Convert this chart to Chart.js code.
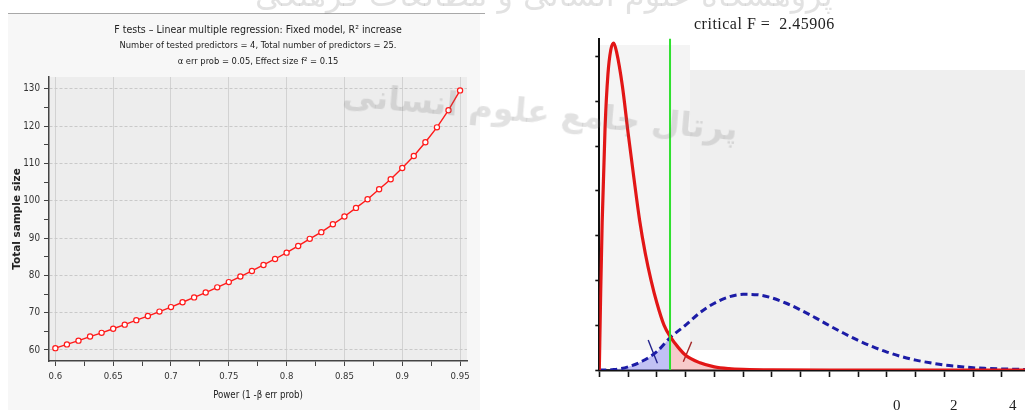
<!DOCTYPE html>
<html>
<head>
<meta charset="utf-8">
<title>F tests – Linear multiple regression</title>
<script src="https://cdn.jsdelivr.net/npm/chart.js@4.4.1/dist/chart.umd.min.js"></script>
<style>
  html, body { margin: 0; padding: 0; background: #fff; }
  #page { position: relative; width: 1025px; height: 410px; overflow: hidden; background: #fff; }
  .abs { position: absolute; }
  canvas { position: absolute; top: 0; }
  #leftBg  { left: 8px; top: 14px; width: 472px; height: 396px; background: #f7f7f7; }
  #topRule { left: 8px; top: 13px; width: 477px; height: 1px; background: #a8a8a8; }
  #rBgA { left: 599px; top: 45px;  width: 91px;  height: 305px; background: #f4f4f4; }
  #rBgB { left: 690px; top: 70px;  width: 335px; height: 280px; background: #efefef; }
  #rBgC { left: 810px; top: 350px; width: 215px; height: 20px;  background: #f3f3f3; }
  #critLabel { left: 694px; top: 15px; font: 16px "Liberation Serif", "DejaVu Serif", serif; letter-spacing: 0.5px; color: #222; white-space: pre; }
  .stray { top: 397px; font: 15px "Liberation Serif", "DejaVu Serif", serif; color: #222; }
  .wm { font-family: "DejaVu Sans", sans-serif; color: rgba(110,110,110,0.2); white-space: nowrap; direction: rtl; pointer-events: none; }
  #wm1 { left: 255px; top: -24px; font-size: 32px; }
  #wm2 { left: 342px; top: 92px; font-size: 33px; font-weight: bold; transform: rotate(5deg); transform-origin: center; }
</style>
</head>
<body>
<div id="page">
  <div class="abs" id="leftBg"></div>
  <div class="abs" id="topRule"></div>
  <div class="abs" id="rBgA"></div>
  <div class="abs" id="rBgB"></div>
  <div class="abs" id="rBgC"></div>
  <canvas id="chart-power" width="480" height="410" style="left:0"></canvas>
  <canvas id="chart-dist" width="465" height="410" style="left:560px"></canvas>
  <div class="abs" id="critLabel">critical F =  2.45906</div>
  <div class="abs stray" style="left:893px">0</div>
  <div class="abs stray" style="left:950px">2</div>
  <div class="abs stray" style="left:1009px">4</div>
  <div class="abs wm" id="wm1">پژوهشگاه علوم انسانی و مطالعات فرهنگی</div>
  <div class="abs wm" id="wm2">پرتال جامع علوم انسانی</div>
</div>
<script>
"use strict";

// ── Data: power curve ─────────────────────────────────────────────────────────

const power = [
  0.60, 0.61, 0.62, 0.63, 0.64, 0.65, 0.66, 0.67, 0.68, 0.69,
  0.70, 0.71, 0.72, 0.73, 0.74, 0.75, 0.76, 0.77, 0.78, 0.79,
  0.80, 0.81, 0.82, 0.83, 0.84, 0.85, 0.86, 0.87, 0.88, 0.89,
  0.90, 0.91, 0.92, 0.93, 0.94, 0.95,
];
const totalN = [
  60.5, 61.5, 62.5, 63.6, 64.6, 65.7, 66.8, 68.0, 69.1, 70.3,
  71.5, 72.8, 74.1, 75.4, 76.8, 78.2, 79.7, 81.2, 82.8, 84.4,
  86.1, 87.9, 89.8, 91.6, 93.7, 95.8, 98.1, 100.4, 103.1, 105.8,
  108.8, 112.0, 115.7, 119.7, 124.3, 129.6,
];
const powerTicks = [0.6, 0.65, 0.7, 0.75, 0.8, 0.85, 0.9, 0.95];
const powerTickLabels = ["0.6", "0.65", "0.7", "0.75", "0.8", "0.85", "0.9", "0.95"];
const sizeTicks = [60, 70, 80, 90, 100, 110, 120, 130];

// ── Data: central / noncentral F distributions ────────────────────────────────

const critF = 2.45906;
const h0F = [0, 0.05, 0.1, 0.2, 0.3, 0.4, 0.5, 0.6, 0.8, 1.0, 1.2, 1.4, 1.6, 1.8,
  2.0, 2.25, 2.45906, 2.75, 3.0, 3.5, 4.0, 4.5, 5.0, 6.0, 8.0, 10.0, 12.0, 14.8];
const h0Dens = [0, 0.18, 0.33, 0.54, 0.66, 0.715, 0.73, 0.71, 0.635, 0.53, 0.43, 0.335, 0.26, 0.20,
  0.15, 0.10, 0.075, 0.05, 0.033, 0.016, 0.007, 0.003, 0.0013, 0.0002, 0, 0, 0, 0];
const h1F = [0, 0.5, 1.0, 1.5, 2.0, 2.45906, 3.0, 3.5, 4.0, 4.5, 5.0, 5.5, 6.0, 6.5, 7.0,
  7.5, 8.0, 8.5, 9.0, 9.5, 10, 10.5, 11, 11.5, 12, 12.5, 13, 13.5, 14, 14.5, 14.8];
const h1Dens = [0, 0.001, 0.007, 0.02, 0.041, 0.072, 0.10, 0.128, 0.149, 0.163, 0.169, 0.168, 0.161, 0.149, 0.134,
  0.117, 0.099, 0.082, 0.066, 0.052, 0.040, 0.030, 0.022, 0.016, 0.011, 0.008, 0.005, 0.0035, 0.0024, 0.0016, 0.0012];
const critLineDens = [0, 0.74];
const betaMarkF = [1.70, 2.02];
const betaMarkDens = [0.067, 0.015];
const alphaMarkF = [3.21, 2.92];
const alphaMarkDens = [0.063, 0.0185];
const distXTicks = [0, 1, 2, 3, 4, 5, 6, 7, 8, 9, 10, 11, 12, 13, 14];
const distYTicks = [0, 0.1, 0.2, 0.3, 0.4, 0.5, 0.6, 0.7];

// ── Helpers ───────────────────────────────────────────────────────────────────

const $ = (id) => document.getElementById(id);
const pts = (xs, ys) => xs.map((x, i) => ({ x, y: ys[i] }));
const near = (a, b) => Math.abs(a - b) < 1e-6;
const isMajor = (list, v) => list.some((m) => near(m, v));
const withMinor = (major) => {
  const out = [];
  major.forEach((v, i) => {
    out.push(v);
    if (i < major.length - 1) out.push((v + major[i + 1]) / 2);
  });
  return out;
};

const NARROW = "'Liberation Sans Narrow', 'DejaVu Sans Condensed', 'Arial Narrow', sans-serif";

const plotBg = {
  id: "plotBg",
  beforeDraw(chart, args, opts) {
    if (!opts.color) return;
    const { ctx, chartArea: a } = chart;
    ctx.save();
    ctx.fillStyle = opts.color;
    ctx.fillRect(a.left, a.top, a.right - a.left, a.bottom - a.top);
    ctx.restore();
  },
};

// ── Power curve ───────────────────────────────────────────────────────────────

new Chart($("chart-power"), {
  type: "line",
  data: {
    datasets: [{
      data: pts(power, totalN),
      borderColor: "#ff1a1a",
      borderWidth: 1.4,
      pointRadius: 2.6,
      pointBorderWidth: 1.2,
      pointBackgroundColor: "#ffffff",
      pointBorderColor: "#ff1a1a",
      tension: 0,
    }],
  },
  options: {
    responsive: false,
    animation: false,
    devicePixelRatio: 1,
    layout: { padding: { top: 0, right: 13, bottom: 0, left: 0 } },
    plugins: {
      legend: { display: false },
      tooltip: { enabled: false },
      plotBg: { color: "#ededed" },
      title: {
        display: true,
        fullSize: false,
        text: "F tests – Linear multiple regression: Fixed model, R² increase",
        color: "#222",
        font: { family: NARROW, size: 10.5, weight: "normal", lineHeight: 1.371 },
        padding: { top: 23, bottom: 0 },
      },
      subtitle: {
        display: true,
        fullSize: false,
        text: [
          "Number of tested predictors = 4, Total number of predictors = 25.",
          "α err prob = 0.05, Effect size f² = 0.15",
        ],
        color: "#222",
        font: { family: NARROW, size: 9.3, lineHeight: 1.72 },
        padding: { top: 0.6, bottom: 7 },
      },
    },
    scales: {
      x: {
        type: "linear",
        min: 0.5945,
        max: 0.956,
        afterBuildTicks: (s) => { s.ticks = withMinor(powerTicks).map((v) => ({ value: v })); },
        afterFit: (s) => { s.height = 49; },
        ticks: {
          autoSkip: false,
          maxRotation: 0,
          padding: 5,
          color: "#333",
          font: { family: NARROW, size: 9.5 },
          callback: (v) => {
            const i = powerTicks.findIndex((m) => near(m, v));
            return i >= 0 ? powerTickLabels[i] : "";
          },
        },
        grid: {
          color: (c) => (c.tick && isMajor(powerTicks, c.tick.value) ? "#d2d2d2" : "rgba(0,0,0,0)"),
          tickColor: "#444",
          tickLength: 5,
        },
        border: { color: "#444", width: 1.5 },
        title: {
          display: true,
          text: "Power (1 -β err prob)",
          color: "#222",
          font: { family: NARROW, size: 9.6 },
          padding: { top: 0, bottom: 9 },
        },
      },
      y: {
        type: "linear",
        min: 57.05,
        max: 133.2,
        afterBuildTicks: (s) => { s.ticks = withMinor(sizeTicks).map((v) => ({ value: v })); },
        afterFit: (s) => { s.width = 49; },
        ticks: {
          autoSkip: false,
          padding: 4,
          color: "#333",
          font: { family: NARROW, size: 9.8 },
          callback: (v) => (isMajor(sizeTicks, v) ? String(v) : ""),
        },
        grid: {
          color: (c) => (c.tick && isMajor(sizeTicks, c.tick.value) ? "#c9c9c9" : "rgba(0,0,0,0)"),
          tickColor: "#444",
          tickLength: 5,
        },
        border: { color: "#444", width: 1.5, dash: [3, 2] },
        title: {
          display: true,
          text: "Total sample size",
          color: "#222",
          font: { family: "'DejaVu Sans', sans-serif", size: 10.5, weight: "bold" },
          padding: { top: 11, bottom: 0 },
        },
      },
    },
  },
  plugins: [plotBg],
});

// ── Distributions ─────────────────────────────────────────────────────────────

const smooth = { pointRadius: 0, cubicInterpolationMode: "monotone" };

new Chart($("chart-dist"), {
  type: "line",
  data: {
    datasets: [
      { data: pts([critF, critF], critLineDens), borderColor: "#2fe02f", borderWidth: 2, pointRadius: 0 },
      { data: pts(h0F, h0Dens), borderColor: "#e21616", borderWidth: 3.2, ...smooth },
      { data: pts(h1F, h1Dens), borderColor: "#1c1ca6", borderWidth: 3, borderDash: [7, 4], ...smooth },
      { data: pts(betaMarkF, betaMarkDens), borderColor: "#23238c", borderWidth: 1.4, pointRadius: 0 },
      { data: pts(alphaMarkF, alphaMarkDens), borderColor: "#a32626", borderWidth: 1.4, pointRadius: 0 },
      {
        data: pts(h0F, h0Dens).filter((p) => p.x >= critF),
        fill: "origin", backgroundColor: "rgba(242,168,168,0.6)", borderWidth: 0, ...smooth,
      },
      {
        data: pts(h1F, h1Dens).filter((p) => p.x <= critF),
        fill: "origin", backgroundColor: "rgba(160,160,238,0.65)", borderWidth: 0, ...smooth,
      },
    ],
  },
  options: {
    responsive: false,
    animation: false,
    devicePixelRatio: 1,
    layout: { padding: { top: 38.5, right: 0, bottom: 0, left: 0 } },
    plugins: { legend: { display: false }, tooltip: { enabled: false } },
    scales: {
      x: {
        type: "linear",
        min: 0,
        max: 14.8,
        afterBuildTicks: (s) => { s.ticks = distXTicks.map((v) => ({ value: v })); },
        afterFit: (s) => { s.height = 40; },
        ticks: { autoSkip: false, maxRotation: 0, callback: () => "" },
        grid: { drawOnChartArea: false, tickColor: "#111", tickLength: 7, tickWidth: 1.6 },
        border: { color: "#111", width: 2.5 },
      },
      y: {
        type: "linear",
        min: 0,
        max: 0.74,
        afterBuildTicks: (s) => { s.ticks = distYTicks.map((v) => ({ value: v })); },
        afterFit: (s) => { s.width = 39.3; },
        ticks: { autoSkip: false, callback: () => "" },
        grid: { drawOnChartArea: false, tickColor: "#111", tickLength: 4, tickWidth: 1.6 },
        border: { color: "#111", width: 2 },
      },
    },
  },
});
</script>
</body>
</html>
